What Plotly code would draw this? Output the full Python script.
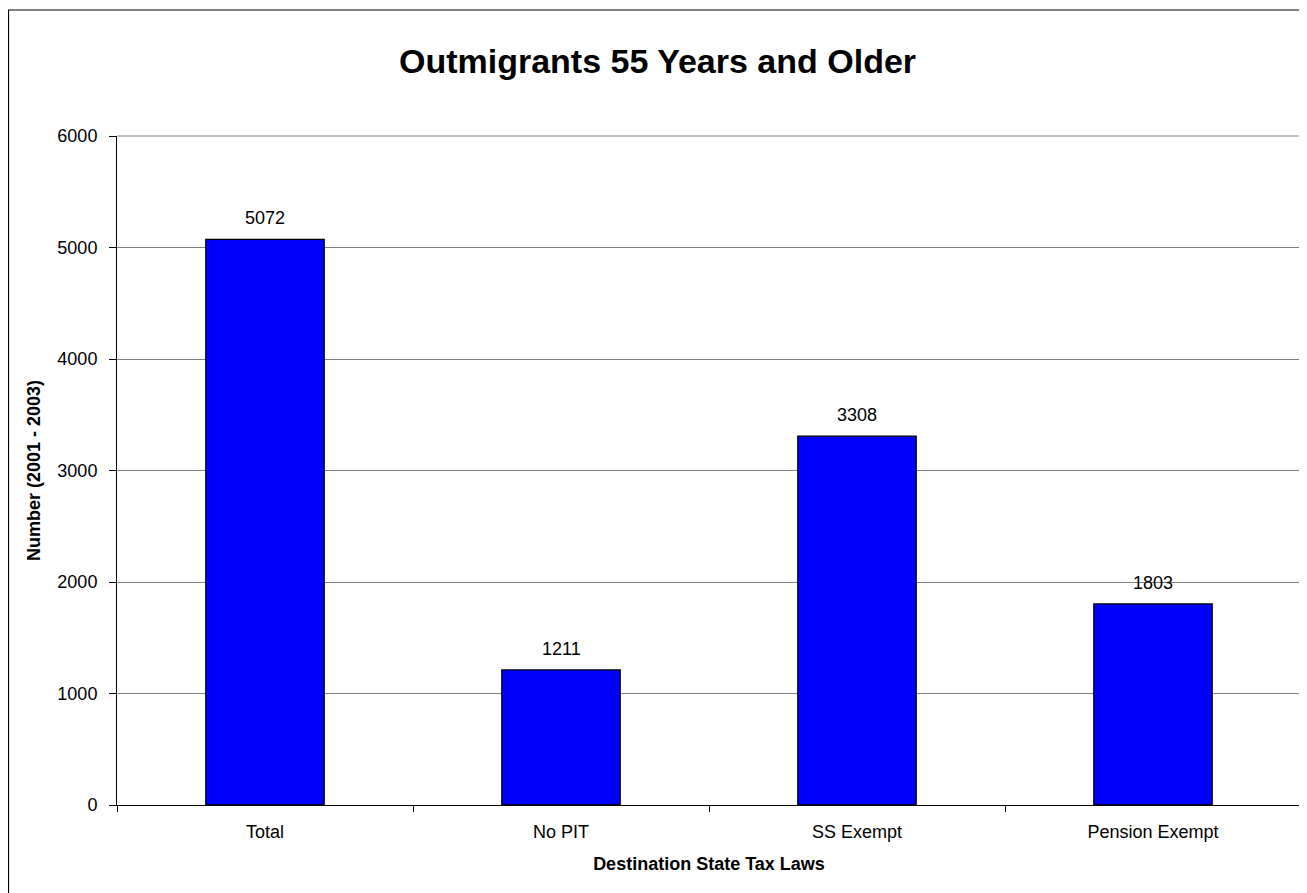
import plotly.graph_objects as go

categories = ["Total", "No PIT", "SS Exempt", "Pension Exempt"]
values = [5072, 1211, 3308, 1803]
y_ticks = [0, 1000, 2000, 3000, 4000, 5000, 6000]

# page body has an 8px margin; figure is sized to fit the window
W, H = 1299, 885
L, R, T, B = 109, 6, 128, 88
pw, ph = W - L - R, H - T - B

font = "Arial, Liberation Sans, sans-serif"
FS = 18

fig = go.Figure(go.Bar(
    x=categories, y=values,
    marker=dict(color="#0000FF", line=dict(color="#000000", width=1.3)),
    width=0.4,
    hoverinfo="x+y",
))

for c, v in zip(categories, values):
    fig.add_annotation(x=c, y=v, text=str(v), showarrow=False,
                       xref="x", yref="y", yanchor="bottom", yshift=9,
                       font=dict(family=font, size=FS, color="#000000"))

fig.update_layout(
    width=W, height=H,
    margin=dict(l=L, r=R, t=T, b=B, pad=0),
    paper_bgcolor="white", plot_bgcolor="white",
    showlegend=False,
    title=dict(text="<b>Outmigrants 55 Years and Older</b>",
               font=dict(family=font, size=34, color="#000000"),
               x=0.5, xanchor="center", xref="container",
               y=1 - 53.5 / H, yanchor="middle", yref="container"),
    font=dict(family=font, size=FS, color="#000000"),
)

fig.update_xaxes(
    type="category", tickson="boundaries", ticks="outside", ticklen=6,
    tickcolor="#000000", showline=True, linecolor="#000000", linewidth=1,
    mirror=False, showgrid=False, ticklabelstandoff=10,
    tickfont=dict(family=font, size=FS, color="#000000"),
    title=dict(text="<b>Destination State Tax Laws</b>",
               font=dict(family=font, size=FS, color="#000000"), standoff=16),
)
fig.update_yaxes(
    range=[0, 6000], tickvals=y_ticks, ticks="outside", ticklen=7,
    tickcolor="#000000", showline=True, linecolor="#000000", linewidth=1,
    showgrid=True, gridcolor="#808080", gridwidth=1, zeroline=False,
    ticklabelstandoff=8,
    tickfont=dict(family=font, size=FS, color="#000000"),
    title=dict(text="<b>Number (2001 - 2003)</b>",
               font=dict(family=font, size=FS, color="#000000"), standoff=12),
)

# plot-area top and right border (gray)
fig.add_shape(type="line", xref="paper", yref="paper", x0=0, x1=1, y0=1, y1=1,
              line=dict(color="#808080", width=1.2))
fig.add_shape(type="line", xref="paper", yref="paper", x0=1, x1=1, y0=0, y1=1,
              line=dict(color="#808080", width=1.5))
# outer chart border
fig.add_shape(type="rect", xref="paper", yref="paper",
              x0=(0.5 - L) / pw, x1=(W + 20 - L) / pw,
              y0=-(B + 20) / ph, y1=(H - 2 - B) / ph,
              line=dict(color="#000000", width=1.2), layer="below")

fig.write_html("out.html")
